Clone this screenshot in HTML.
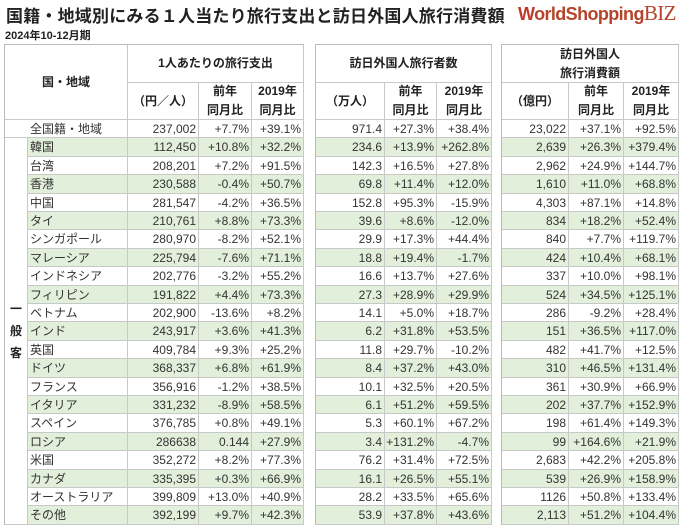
<!DOCTYPE html>
<html><head><meta charset="utf-8">
<style>
body{margin:0;width:680px;height:528px;background:#fff;position:relative;overflow:hidden;font-family:"Liberation Sans","Noto Sans CJK JP",sans-serif;color:#222}
.a{position:absolute;box-sizing:border-box}
.t{font-size:17px;font-weight:bold;left:6px;top:2px;letter-spacing:0.2px}
.s{font-size:11px;font-weight:bold;left:5px;top:27px}
.blk{position:absolute;border-left:1px solid #bbb;border-top:1px solid #bbb;top:44px;background:#fff}
.c{position:absolute;box-sizing:border-box;font-size:12px;line-height:18px;white-space:nowrap;border-right:1px solid #c8c8c8;border-bottom:1px solid #c8c8c8;color:#333}
.r{text-align:right;padding-right:2px}
.h{font-weight:bold;font-size:12px;text-align:center;display:flex;align-items:center;justify-content:center;line-height:19px;color:#222}
.g{background:#e2efda}
</style></head><body>
<div class="a t">国籍・地域別にみる１人当たり旅行支出と訪日外国人旅行消費額</div>
<div class="a s">2024年10-12月期</div>
<div class="a" style="left:518px;top:1px;font-size:18px;color:#b5442a;font-weight:bold;letter-spacing:-0.6px"><span style="color:#c0392b">W</span>orldShopping<span style="font-family:'Liberation Serif',serif;font-weight:normal;font-size:21px">BIZ</span></div>
<div id="root"></div>
<script>
const regions=["全国籍・地域","韓国","台湾","香港","中国","タイ","シンガポール","マレーシア","インドネシア","フィリピン","ベトナム","インド","英国","ドイツ","フランス","イタリア","スペイン","ロシア","米国","カナダ","オーストラリア","その他"];
const spend=["237,002","112,450","208,201","230,588","281,547","210,761","280,970","225,794","202,776","191,822","202,900","243,917","409,784","368,337","356,916","331,232","376,785","286638","352,272","335,395","399,809","392,199"];
const spendYoY=["+7.7%","+10.8%","+7.2%","-0.4%","-4.2%","+8.8%","-8.2%","-7.6%","-3.2%","+4.4%","-13.6%","+3.6%","+9.3%","+6.8%","-1.2%","-8.9%","+0.8%","0.144","+8.2%","+0.3%","+13.0%","+9.7%"];
const spend19=["+39.1%","+32.2%","+91.5%","+50.7%","+36.5%","+73.3%","+52.1%","+71.1%","+55.2%","+73.3%","+8.2%","+41.3%","+25.2%","+61.9%","+38.5%","+58.5%","+49.1%","+27.9%","+77.3%","+66.9%","+40.9%","+42.3%"];
const visitors=["971.4","234.6","142.3","69.8","152.8","39.6","29.9","18.8","16.6","27.3","14.1","6.2","11.8","8.4","10.1","6.1","5.3","3.4","76.2","16.1","28.2","53.9"];
const visYoY=["+27.3%","+13.9%","+16.5%","+11.4%","+95.3%","+8.6%","+17.3%","+19.4%","+13.7%","+28.9%","+5.0%","+31.8%","+29.7%","+37.2%","+32.5%","+51.2%","+60.1%","+131.2%","+31.4%","+26.5%","+33.5%","+37.8%"];
const vis19=["+38.4%","+262.8%","+27.8%","+12.0%","-15.9%","-12.0%","+44.4%","-1.7%","+27.6%","+29.9%","+18.7%","+53.5%","-10.2%","+43.0%","+20.5%","+59.5%","+67.2%","-4.7%","+72.5%","+55.1%","+65.6%","+43.6%"];
const consum=["23,022","2,639","2,962","1,610","4,303","834","840","424","337","524","286","151","482","310","361","202","198","99","2,683","539","1126","2,113"];
const conYoY=["+37.1%","+26.3%","+24.9%","+11.0%","+87.1%","+18.2%","+7.7%","+10.4%","+10.0%","+34.5%","-9.2%","+36.5%","+41.7%","+46.5%","+30.9%","+37.7%","+61.4%","+164.6%","+42.2%","+26.9%","+50.8%","+51.2%"];
const con19=["+92.5%","+379.4%","+144.7%","+68.8%","+14.8%","+52.4%","+119.7%","+68.1%","+98.1%","+125.1%","+28.4%","+117.0%","+12.5%","+131.4%","+66.9%","+152.9%","+149.3%","+21.9%","+205.8%","+158.9%","+133.4%","+104.4%"];
const root=document.getElementById('root');
const H1=38,H2=37,RH=18.4;
function blk(left,width,name){const b=document.createElement('div');b.className='blk';b.style.left=left+'px';b.style.width=width+'px';b.style.height=(H1+H2+RH*22)+'px';


root.appendChild(b);return b;}
function cell(p,x,y,w,h,txt,cls,name){const c=document.createElement('div');c.className='c '+cls;c.style.left=x+'px';c.style.top=y+'px';c.style.width=w+'px';c.style.height=h+'px';c.innerHTML=txt;


p.appendChild(c);return c;}
function dataBlock(left,w0,w1,w2,title,unit,arrs,name,prefix){
 const W=w0+w1+w2;const b=blk(left,W,name);
 cell(b,0,0,W,H1,title,'h',prefix+'-header');
 cell(b,0,H1,w0,H2,unit,'h',prefix+'-unit');
 cell(b,w0,H1,w1,H2,'前年<br>同月比','h',prefix+'-yoy-header');
 cell(b,w0+w1,H1,w2,H2,'2019年<br>同月比','h',prefix+'-2019-header');
 for(let i=0;i<22;i++){const y=H1+H2+i*RH;const g=i%2==1?' g':'';
  cell(b,0,y,w0,RH,arrs[0][i],'r'+g,prefix+'-value');
  cell(b,w0,y,w1,RH,arrs[1][i],'r'+g,prefix+'-yoy');
  cell(b,w0+w1,y,w2,RH,arrs[2][i],'r'+g,prefix+'-vs2019');}
}
(function(){const b=blk(4,299,'per-capita-spending-table');
 cell(b,0,0,123,H1+H2,'国・地域','h','region-header');
 cell(b,123,0,176,H1,'1人あたりの旅行支出','h','spend-header');
 cell(b,123,H1,71,H2,'（円／人）','h','spend-unit');
 cell(b,194,H1,53,H2,'前年<br>同月比','h','spend-yoy-header');
 cell(b,247,H1,52,H2,'2019年<br>同月比','h','spend-2019-header');
 const v=cell(b,0,H1+H2+RH,23,RH*21,'一<br>般<br>客','h','general-visitor-label');v.style.lineHeight='22px';
 for(let i=0;i<22;i++){const y=H1+H2+i*RH;const g=i%2==1?' g':'';
  if(i==0){const c=cell(b,0,y,123,RH,regions[i],'','region-name');c.style.paddingLeft='25px';}
  else{const c=cell(b,23,y,100,RH,regions[i],g.trim(),'region-name');c.style.paddingLeft='2px';}
  cell(b,123,y,71,RH,spend[i],'r'+g,'spend-value');
  cell(b,194,y,53,RH,spendYoY[i],'r'+g,'spend-yoy');
  cell(b,247,y,52,RH,spend19[i],'r'+g,'spend-vs2019');}
})();
dataBlock(315,69,52,55,'訪日外国人旅行者数','（万人）',[visitors,visYoY,vis19],'visitor-count-table','visitors');
dataBlock(501,67,55,55,'訪日外国人<br>旅行消費額','（億円）',[consum,conYoY,con19],'consumption-table','consumption');
</script>
</body></html>
